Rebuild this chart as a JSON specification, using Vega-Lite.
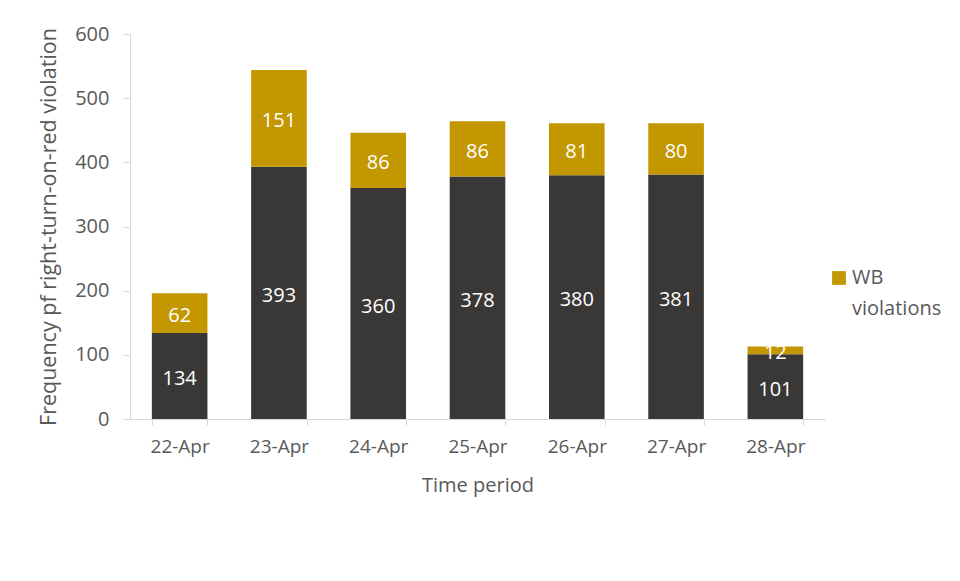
{
  "$schema": "https://vega.github.io/schema/vega-lite/v6.json",
  "width": 695,
  "height": 385,
  "autosize": {"type": "none"},
  "padding": {"left": 130, "top": 34, "right": 135, "bottom": 162},
  "background": "white",
  "config": {
    "view": {"stroke": null},
    "font": "Open Sans",
    "axis": {"labelFont": "Open Sans", "titleFont": "Open Sans", "labelColor": "#595959", "titleColor": "#595959", "domainColor": "#d9d9d9", "tickColor": "#d9d9d9", "grid": false}
  },
  "data": {
    "values": [
      {"date": "22-Apr", "series": "All", "ord": 0, "value": 134},
      {"date": "22-Apr", "series": "WB violations", "ord": 1, "value": 62},
      {"date": "23-Apr", "series": "All", "ord": 0, "value": 393},
      {"date": "23-Apr", "series": "WB violations", "ord": 1, "value": 151},
      {"date": "24-Apr", "series": "All", "ord": 0, "value": 360},
      {"date": "24-Apr", "series": "WB violations", "ord": 1, "value": 86},
      {"date": "25-Apr", "series": "All", "ord": 0, "value": 378},
      {"date": "25-Apr", "series": "WB violations", "ord": 1, "value": 86},
      {"date": "26-Apr", "series": "All", "ord": 0, "value": 380},
      {"date": "26-Apr", "series": "WB violations", "ord": 1, "value": 81},
      {"date": "27-Apr", "series": "All", "ord": 0, "value": 381},
      {"date": "27-Apr", "series": "WB violations", "ord": 1, "value": 80},
      {"date": "28-Apr", "series": "All", "ord": 0, "value": 101},
      {"date": "28-Apr", "series": "WB violations", "ord": 1, "value": 12}
    ]
  },
  "transform": [
    {"stack": "value", "groupby": ["date"], "sort": [{"field": "ord"}], "as": ["v0", "v1"]},
    {"calculate": "(datum.v0 + datum.v1) / 2", "as": "mid"}
  ],
  "encoding": {
    "x": {
      "field": "date", "type": "nominal", "sort": null,
      "scale": {"paddingInner": 0.44, "paddingOuter": 0.22},
      "axis": {"title": "Time period", "labelAngle": 0, "labelFontSize": 19, "labelPadding": 12, "titleFontSize": 20, "titleFontWeight": "normal", "titlePadding": 19, "tickBand": "extent", "tickSize": 6}
    }
  },
  "layer": [
    {
      "mark": {"type": "bar"},
      "encoding": {
        "y": {"field": "v0", "type": "quantitative", "scale": {"domain": [0, 600]},
          "axis": {"title": "Frequency pf right-turn-on-red violation", "values": [0, 100, 200, 300, 400, 500, 600], "labelFontSize": 20, "labelPadding": 14, "titleFontSize": 21.5, "titleFontWeight": "normal", "titlePadding": 14, "tickSize": 7}},
        "y2": {"field": "v1"},
        "color": {
          "field": "series", "type": "nominal",
          "scale": {"domain": ["All", "WB violations"], "range": ["#3a3836", "#c39700"]},
          "legend": {"values": ["WB violations"], "title": null, "orient": "none", "legendX": 699, "legendY": 234, "symbolType": "square", "symbolSize": 190, "symbolStrokeWidth": 0, "labelFontSize": 20, "labelColor": "#595959", "labelFont": "Open Sans", "labelExpr": "split(datum.label, ' ')", "labelOffset": 3, "labelBaseline": "middle",
            "encode": {"labels": {"update": {"lineHeight": {"value": 31}}}}}
        }
      }
    },
    {
      "mark": {"type": "text", "color": "white", "fontSize": 20, "font": "Open Sans", "dy": 3},
      "encoding": {
        "y": {"field": "mid", "type": "quantitative",
          "axis": {"title": "Frequency pf right-turn-on-red violation", "values": [0, 100, 200, 300, 400, 500, 600], "labelFontSize": 20, "labelPadding": 14, "titleFontSize": 21.5, "titleFontWeight": "normal", "titlePadding": 14, "tickSize": 7}},
        "text": {"field": "value", "type": "quantitative"}
      }
    }
  ]
}
